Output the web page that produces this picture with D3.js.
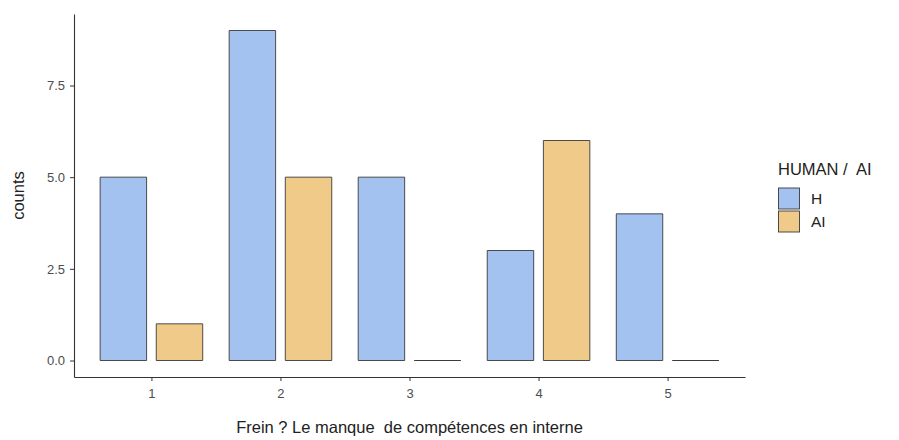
<!DOCTYPE html>
<html>
<head>
<meta charset="utf-8">
<script src="https://cdn.jsdelivr.net/npm/d3@7"></script>
<style>
  body { margin: 0; background: #fff; }
  text { font-family: "Liberation Sans", Arial, sans-serif; }
</style>
</head>
<body>
<div id="chart"></div>
<script>
// data
const categories = ["1", "2", "3", "4", "5"];
const groups = ["H", "AI"];
const hCounts = [5, 9, 5, 3, 4];
const aiCounts = [1, 5, 0, 6, 0];
const yTicks = [0, 2.5, 5, 7.5];

const colors = { H: "#a3c2ef", AI: "#f0ca89" };

const W = 899, H = 440;
const margin = { top: 14, right: 154, bottom: 63, left: 74 };
const width = W - margin.left - margin.right;
const height = H - margin.top - margin.bottom;

const svg = d3.select("#chart")
    .append("svg")
    .attr("width", W)
    .attr("height", H);

const g = svg.append("g")
    .attr("transform", `translate(${margin.left},${margin.top})`);

// x: discrete with 0.6 expansion each side, like ggplot
const x = d3.scaleLinear()
    .domain([0.4, categories.length + 0.6])
    .range([0, width]);

const maxV = d3.max(hCounts.concat(aiCounts));
const y = d3.scaleLinear()
    .domain([-0.05 * maxV, maxV * 1.05])
    .range([height, 0]);

const step = x(2) - x(1);
const barW = step * 0.36;
const gap = step * 0.075;

const rows = [];
categories.forEach((c, i) => {
    rows.push({ cat: i + 1, group: "H", value: hCounts[i] });
    rows.push({ cat: i + 1, group: "AI", value: aiCounts[i] });
});

function barPath(d) {
    const cx = x(d.cat);
    const x0 = d.group === "H" ? cx - gap / 2 - barW : cx + gap / 2;
    const y0 = y(0), y1 = y(d.value);
    return `M${x0},${y0}H${x0 + barW}V${y1}H${x0}Z`;
}

g.selectAll("path.bar")
    .data(rows)
    .join("path")
    .attr("class", "bar")
    .attr("d", barPath)
    .attr("fill", d => colors[d.group])
    .attr("stroke", "#3a3a3a")
    .attr("stroke-width", 0.9);

// axes
const xAxis = g.append("g")
    .attr("transform", `translate(0,${height})`)
    .call(d3.axisBottom(x).tickValues(d3.range(1, categories.length + 1))
        .tickFormat(d => categories[d - 1]).tickSize(4).tickPadding(8).tickSizeOuter(0));

const yAxis = g.append("g")
    .call(d3.axisLeft(y).tickValues(yTicks).tickFormat(d3.format(".1f"))
        .tickSize(4).tickPadding(5).tickSizeOuter(0));

[xAxis, yAxis].forEach(a => {
    a.select(".domain").attr("stroke", "#333").attr("stroke-width", 1.1);
    a.selectAll(".tick line").attr("stroke", "#333");
    a.selectAll(".tick text").attr("fill", "#4d4d4d").style("font-size", "13px");
});

// axis titles
svg.append("text")
    .attr("x", margin.left + width / 2)
    .attr("y", 433)
    .attr("text-anchor", "middle")
    .style("font-size", "16.5px")
    .style("white-space", "pre")
    .attr("fill", "#222")
    .text("Frein ? Le manque  de compétences en interne");

svg.append("text")
    .attr("transform", `translate(24,${margin.top + height / 2}) rotate(-90)`)
    .attr("text-anchor", "middle")
    .style("font-size", "16.5px")
    .attr("fill", "#222")
    .text("counts");

// legend
const legend = svg.append("g").attr("transform", "translate(778,0)");
legend.append("text")
    .attr("x", 0)
    .attr("y", 175)
    .style("font-size", "16.5px")
    .style("white-space", "pre")
    .attr("fill", "#222")
    .text("HUMAN /  AI");

groups.forEach((grp, i) => {
    legend.append("rect")
        .attr("x", 0.5)
        .attr("y", 188 + i * 23)
        .attr("width", 21)
        .attr("height", 21)
        .attr("fill", colors[grp])
        .attr("stroke", "#3a3a3a")
        .attr("stroke-width", 0.9);
    legend.append("text")
        .attr("x", 33)
        .attr("y", 204 + i * 23)
        .style("font-size", "15.5px")
        .attr("fill", "#222")
        .text(grp);
});
</script>
</body>
</html>
